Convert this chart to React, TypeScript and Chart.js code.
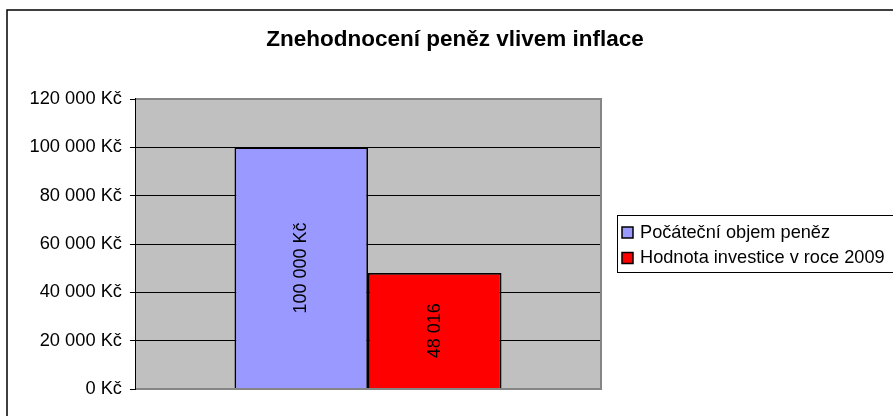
import React, { useEffect, useRef } from "react";
import { Chart, registerables } from "chart.js";

Chart.register(...registerables);

const titleText = "Znehodnocení peněz vlivem inflace";
const categories = [""];
const seriesNames = ["Počáteční objem peněz", "Hodnota investice v roce 2009"];
const seriesValues = [100000, 48016];
const seriesColors = ["#9999FF", "#FF0000"];
const valueLabels = ["100 000 Kč", "48 016"];
const yMin = 0;
const yMax = 120000;
const yStep = 20000;

const FONT = "Arial, 'Liberation Sans', sans-serif";

function fmt(v: number): string {
  return String(v).replace(/\B(?=(\d{3})+(?!\d))/g, " ") + " Kč";
}

const decorPlugin = {
  id: "decor",
  beforeDraw(chart: any) {
    const { ctx, chartArea } = chart;
    ctx.save();
    ctx.fillStyle = "#FFFFFF";
    ctx.fillRect(0, 0, chart.width, chart.height);
    ctx.fillStyle = "#C0C0C0";
    ctx.fillRect(chartArea.left, chartArea.top, chartArea.right - chartArea.left, chartArea.bottom - chartArea.top);
    ctx.restore();
  },
  afterDatasetsDraw(chart: any) {
    const { ctx, chartArea } = chart;
    ctx.save();
    ctx.strokeStyle = "#858585";
    ctx.lineWidth = 2;
    ctx.beginPath();
    ctx.moveTo(chartArea.left, chartArea.top);
    ctx.lineTo(chartArea.right, chartArea.top);
    ctx.lineTo(chartArea.right, chartArea.bottom);
    ctx.lineTo(chartArea.left, chartArea.bottom);
    ctx.stroke();
    ctx.strokeStyle = "#000";
    ctx.lineWidth = 1;
    ctx.beginPath();
    ctx.moveTo(chartArea.left + 0.5, chartArea.top - 1);
    ctx.lineTo(chartArea.left + 0.5, chartArea.bottom + 1);
    ctx.stroke();

    ctx.fillStyle = "#000";
    ctx.font = `18px ${FONT}`;
    ctx.textAlign = "center";
    ctx.textBaseline = "middle";
    chart.data.datasets.forEach((ds: any, i: number) => {
      const meta = chart.getDatasetMeta(i);
      meta.data.forEach((el: any) => {
        const cx = el.x;
        const cy = (el.y + el.base) / 2;
        ctx.save();
        ctx.translate(cx, cy);
        ctx.rotate(-Math.PI / 2);
        ctx.fillText(valueLabels[i], 0, 0);
        ctx.restore();
      });
    });
    ctx.restore();
  },
  afterDraw(chart: any) {
    const { ctx } = chart;
    ctx.save();
    ctx.strokeStyle = "#000";
    ctx.lineWidth = 1.5;
    ctx.strokeRect(7, 10, 897, 450);

    ctx.fillStyle = "#000";
    ctx.font = `bold 22.5px ${FONT}`;
    ctx.textAlign = "center";
    ctx.textBaseline = "alphabetic";
    ctx.fillText(titleText, 455, 46);

    const lx = 617;
    const ly = 215;
    ctx.strokeStyle = "#000";
    ctx.lineWidth = 1;
    ctx.strokeRect(lx + 0.5, ly + 0.5, 300, 57);
    ctx.font = `18.2px ${FONT}`;
    ctx.textAlign = "left";
    chart.data.datasets.forEach((ds: any, i: number) => {
      const base = 237.5 + i * 25.5;
      ctx.fillStyle = ds.backgroundColor;
      ctx.fillRect(622, base - 10.5, 11, 11);
      ctx.strokeStyle = "#000";
      ctx.lineWidth = 1.5;
      ctx.strokeRect(622, base - 10.5, 11, 11);
      ctx.fillStyle = "#000";
      ctx.fillText(ds.label, 640, base);
    });
    ctx.restore();
  },
};

export default function App() {
  const ref = useRef<HTMLCanvasElement | null>(null);
  useEffect(() => {
    document.body.style.overflow = "hidden";
    const canvas = ref.current!;
    const chart = new Chart(canvas, {
      type: "bar",
      data: {
        labels: categories,
        datasets: seriesNames.map((name, i) => ({
          label: name,
          data: [seriesValues[i]],
          backgroundColor: seriesColors[i],
          borderColor: "#000",
          borderWidth: 1.7,
          categoryPercentage: 0.573,
          barPercentage: 1,
        })),
      },
      options: {
        animation: false,
        responsive: false,
        devicePixelRatio: 1,
        layout: { padding: { left: 0, right: 292, top: 99, bottom: 27 } },
        plugins: {
          legend: { display: false },
          title: { display: false },
          tooltip: { enabled: false },
        },
        scales: {
          x: { display: false },
          y: {
            min: yMin,
            max: yMax,
            afterFit(scale: any) {
              scale.width = 135;
            },
            ticks: {
              stepSize: yStep,
              color: "#000",
              padding: 8,
              font: { family: FONT, size: 18.3 },
              callback: (v: any) => fmt(Number(v)),
            },
            grid: {
              color: (c: any) =>
                c.tick && (c.tick.value === yMin || c.tick.value === yMax) ? "rgba(0,0,0,0)" : "#000",
              tickColor: "#000",
              tickLength: 5,
              lineWidth: 1,
            },
            border: { display: true, color: "#000", width: 1 },
          },
        },
      },
      plugins: [decorPlugin],
    });
    return () => chart.destroy();
  }, []);
  return (
    <canvas
      ref={ref}
      width={893}
      height={416}
      style={{ position: "fixed", left: 0, top: 0, width: 893, height: 416 }}
    />
  );
}
